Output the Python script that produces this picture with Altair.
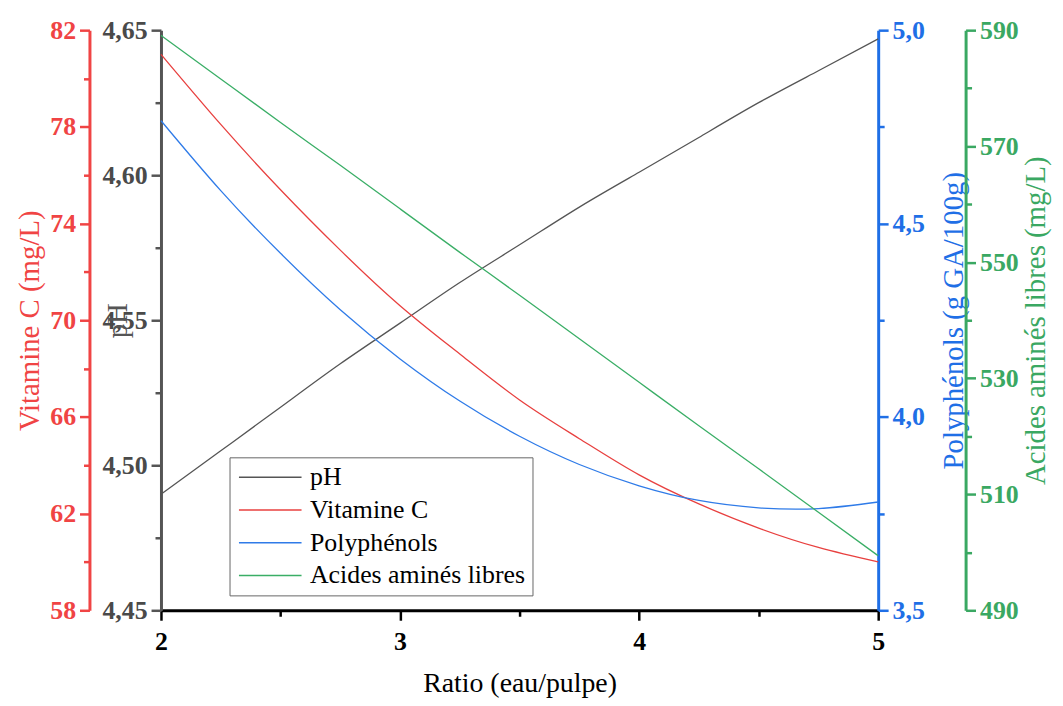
import altair as alt
import pandas as pd

ratio = [2.0, 2.25, 2.5, 2.75, 3.0, 3.25, 3.5, 3.75, 4.0, 4.25, 4.5, 4.75, 5.0]
ph = [4.490, 4.505, 4.520, 4.535, 4.549, 4.563, 4.576, 4.589, 4.601, 4.613, 4.625, 4.636, 4.647]
vitc = [81.0, 78.1, 75.4, 72.9, 70.6, 68.6, 66.7, 65.1, 63.6, 62.4, 61.4, 60.6, 60.0]
poly = [4.766, 4.585, 4.423, 4.277, 4.150, 4.041, 3.950, 3.877, 3.822, 3.784, 3.765, 3.763, 3.780]
aa = [589.1, 581.6, 574.1, 566.7, 559.2, 551.7, 544.3, 536.8, 529.3, 521.8, 514.4, 506.9, 499.4]

series = ["pH", "Vitamine C", "Polyphénols", "Acides aminés libres"]
line_colors = ["#555555", "#e8403f", "#2f7be8", "#3aae66"]

df = pd.DataFrame({"ratio": ratio, "ph": ph, "vitc": vitc, "poly": poly, "aa": aa})

FONT = "'Liberation Serif', 'Times New Roman', serif"
W, H = 722, 584

x_enc = alt.X(
    "ratio:Q",
    scale=alt.Scale(domain=[2, 5], nice=False, zero=False),
    axis=alt.Axis(
        title="Ratio (eau/pulpe)",
        values=[2, 2.5, 3, 3.5, 4, 4.5, 5],
        labelExpr="datum.value % 1 === 0 ? format(datum.value, 'd') : ''",
        tickSize={"condition": {"test": "datum.value % 1 === 0", "value": 10}, "value": 6},
        tickWidth=2.5, tickColor="black",
        domainColor="black", domainWidth=3,
        labelFont=FONT, labelFontSize=26, labelFontWeight="bold", labelColor="black",
        labelPadding=8, labelFlush=False,
        titleFont=FONT, titleFontSize=28, titleFontWeight="normal", titleColor="black",
        titlePadding=16, grid=False,
    ),
)

color_enc = alt.Color(
    "series:N",
    scale=alt.Scale(domain=series, range=line_colors),
    legend=alt.Legend(
        title=None, orient="none", legendX=69, legendY=430,
        strokeColor="#666666", fillColor="white", padding=7,
        labelFont=FONT, labelFontSize=26, labelColor="black", labelLimit=0,
        symbolType="M-3,0H3", symbolSize=441, symbolStrokeWidth=1.5,
        symbolOffset=21, labelOffset=27, rowPadding=7,
    ),
)


def yaxis(title, color, lblcolor, orient, offset, values, label_expr, major_test, title_x):
    return alt.Axis(
        title=title, orient=orient, offset=offset, values=values,
        labelExpr=label_expr,
        tickSize={"condition": {"test": major_test, "value": 10}, "value": 6},
        tickWidth=2.5, tickColor=color, domainColor=color, domainWidth=3,
        labelFont=FONT, labelFontSize=26, labelFontWeight="bold", labelColor=lblcolor,
        labelPadding=4,
        titleFont=FONT, titleFontSize=29, titleFontWeight="normal", titleColor=color,
        titleX=title_x, titleY=H / 2, titleAngle=270, titleAlign="center",
        titleBaseline="middle", titleLimit=0, grid=False,
    )


def layer(field, name, domain, axis):
    return (
        alt.Chart(df)
        .transform_calculate(series=f"'{name}'")
        .mark_line(strokeWidth=1.3, interpolate="natural")
        .encode(
            x=x_enc,
            y=alt.Y(f"{field}:Q", scale=alt.Scale(domain=domain, nice=False, zero=False), axis=axis),
            color=color_enc,
        )
    )


ph_vals = [round(4.45 + 0.025 * i, 3) for i in range(9)]
vc_vals = list(range(58, 83, 2))
po_vals = [3.5 + 0.25 * i for i in range(7)]
aa_vals = list(range(490, 591, 10))

l_ph = layer("ph", "pH", [4.45, 4.65], yaxis(
    "pH", "#555555", "#4a4a4a", "left", 0, ph_vals,
    "abs(datum.value*20 - round(datum.value*20)) < 0.001 ? replace(format(datum.value, '.2f'), '.', ',') : ''",
    "abs(datum.value*20 - round(datum.value*20)) < 0.001", -44))
l_vc = layer("vitc", "Vitamine C", [58, 82], yaxis(
    "Vitamine C (mg/L)", "#f04444", "#f04444", "left", 72, vc_vals,
    "(datum.value - 58) % 4 === 0 ? format(datum.value, 'd') : ''",
    "(datum.value - 58) % 4 === 0", -60))
l_po = layer("poly", "Polyphénols", [3.5, 5.0], yaxis(
    "Polyphénols (g GA/100g)", "#1f6fe6", "#1f6fe6", "right", 0, po_vals,
    "abs(datum.value*2 - round(datum.value*2)) < 0.001 ? replace(format(datum.value, '.1f'), '.', ',') : ''",
    "abs(datum.value*2 - round(datum.value*2)) < 0.001", 76))
l_aa = layer("aa", "Acides aminés libres", [490, 590], yaxis(
    "Acides aminés libres (mg/L)", "#3aa862", "#3aa862", "right", 88, aa_vals,
    "(datum.value - 490) % 20 === 0 ? format(datum.value, 'd') : ''",
    "(datum.value - 490) % 20 === 0", 70))

chart = (
    alt.layer(l_ph, l_vc, l_po, l_aa)
    .resolve_scale(y="independent")
    .properties(
        width=W, height=H,
        autosize=alt.AutoSizeParams(type="none"),
        padding={"left": 154, "top": 20, "right": 178, "bottom": 90},
    )
    .configure_view(stroke=None)
)

chart.save("out.html", embed_options={"renderer": "svg", "actions": False})
